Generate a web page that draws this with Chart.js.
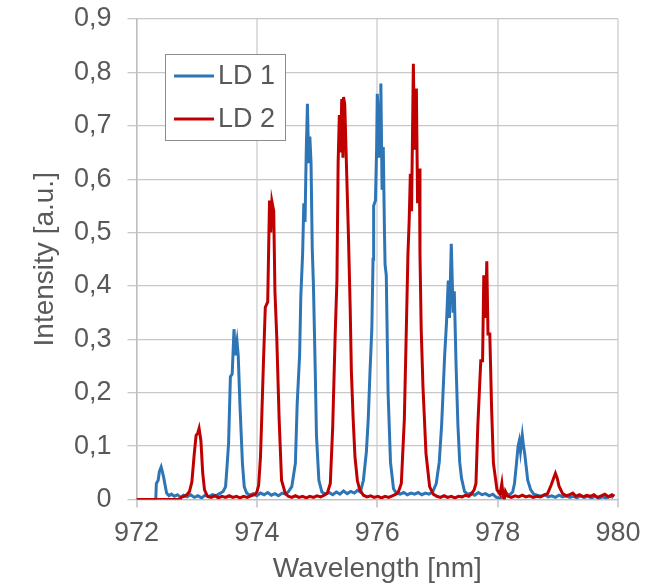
<!DOCTYPE html>
<html>
<head>
<meta charset="utf-8">
<script src="https://cdn.jsdelivr.net/npm/chart.js@4.4.1/dist/chart.umd.min.js"></script>
<style>
html,body{margin:0;padding:0;background:#fff;}
#wrap{width:669px;height:587px;}
</style>
</head>
<body>
<div id="wrap"><canvas id="c" width="669" height="587"></canvas></div>
<script>
// ---- data ----
const seriesNames = ["LD 1", "LD 2"];
const xTickValues = [972, 974, 976, 978, 980];
const yTickValues = [0, 0.1, 0.2, 0.3, 0.4, 0.5, 0.6, 0.7, 0.8, 0.9];

const ld1Wavelength = [
972.00,972.32,972.33,972.36,972.38,972.41,972.43,972.45,972.47,972.50,972.54,972.58,972.63,972.68,972.73,972.78,972.84,972.90,972.96,973.02,
973.08,973.14,973.20,973.26,973.32,973.38,973.44,973.48,973.50,973.53,973.56,973.59,973.62,973.64,973.67,973.69,973.72,973.76,973.79,973.83,
973.88,973.94,974.00,974.06,974.12,974.18,974.24,974.30,974.36,974.42,974.47,974.52,974.58,974.64,974.67,974.71,974.73,974.76,974.78,974.80,
974.82,974.84,974.86,974.88,974.90,974.92,974.94,974.97,974.99,975.03,975.08,975.14,975.20,975.26,975.32,975.38,975.44,975.50,975.56,975.62,
975.67,975.72,975.77,975.82,975.85,975.88,975.91,975.93,975.94,975.97,975.99,976.00,976.02,976.03,976.05,976.06,976.08,976.10,976.12,976.13,
976.15,976.18,976.22,976.27,976.32,976.38,976.44,976.50,976.56,976.62,976.68,976.74,976.80,976.86,976.92,976.98,977.03,977.07,977.12,977.15,
977.18,977.20,977.23,977.26,977.28,977.31,977.34,977.37,977.40,977.45,977.50,977.56,977.62,977.68,977.74,977.80,977.86,977.92,977.98,978.04,
978.10,978.16,978.21,978.25,978.28,978.31,978.34,978.36,978.38,978.41,978.43,978.45,978.50,978.55,978.60,978.66,978.72,978.78,978.84,978.90,
978.96,979.02,979.08,979.14,979.20,979.26,979.32,979.38,979.44,979.50,979.56,979.62,979.68,979.74,979.80,979.86,979.92
];
const ld1Intensity = [
0,0,0.030,0.036,0.052,0.061,0.052,0.042,0.030,0.012,0.007,0.010,0.006,0.009,0.004,0.008,0.005,0.009,0.004,0.007,
0.003,0.008,0.005,0.009,0.007,0.011,0.015,0.024,0.055,0.105,0.230,0.235,0.319,0.270,0.296,0.270,0.174,0.068,0.024,0.012,
0.008,0.011,0.007,0.012,0.009,0.013,0.008,0.011,0.007,0.012,0.010,0.014,0.024,0.068,0.180,0.270,0.380,0.460,0.555,0.520,
0.650,0.741,0.630,0.680,0.630,0.470,0.400,0.240,0.120,0.036,0.014,0.010,0.013,0.009,0.014,0.010,0.016,0.011,0.015,0.012,
0.017,0.014,0.036,0.090,0.150,0.240,0.320,0.450,0.550,0.560,0.660,0.760,0.720,0.640,0.700,0.779,0.580,0.660,0.500,0.440,
0.420,0.200,0.070,0.020,0.012,0.010,0.013,0.009,0.012,0.010,0.013,0.009,0.012,0.010,0.014,0.030,0.070,0.140,0.270,0.330,
0.410,0.340,0.479,0.350,0.390,0.250,0.140,0.070,0.040,0.015,0.010,0.012,0.008,0.013,0.009,0.011,0.007,0.010,0.004,0.003,
0.005,0.008,0.010,0.014,0.030,0.064,0.100,0.110,0.090,0.120,0.100,0.086,0.036,0.018,0.010,0.008,0.006,0.009,0.005,0.007,
0.004,0.008,0.005,0.007,0.004,0.006,0.003,0.007,0.004,0.006,0.003,0.006,0.002,0.005,0.003,0.006,0.004
];

const ld2Wavelength = [
972.00,972.73,972.74,972.79,972.84,972.88,972.92,972.96,972.99,973.02,973.04,973.07,973.10,973.13,973.18,973.24,973.30,973.36,973.42,973.48,
973.54,973.60,973.66,973.72,973.78,973.84,973.90,973.96,974.00,974.03,974.06,974.08,974.11,974.14,974.18,974.21,974.23,974.25,974.28,974.30,
974.33,974.37,974.41,974.47,974.52,974.58,974.64,974.70,974.76,974.82,974.88,974.94,975.00,975.06,975.12,975.17,975.22,975.26,975.30,975.33,
975.35,975.37,975.39,975.41,975.43,975.44,975.46,975.49,975.52,975.55,975.57,975.60,975.63,975.67,975.71,975.77,975.83,975.89,975.95,976.01,
976.07,976.13,976.19,976.25,976.31,976.35,976.40,976.45,976.49,976.51,976.53,976.55,976.57,976.60,976.62,976.65,976.67,976.70,976.71,976.73,
976.76,976.81,976.87,976.93,976.99,977.05,977.11,977.17,977.23,977.29,977.35,977.41,977.47,977.52,977.56,977.61,977.64,977.67,977.72,977.75,
977.77,977.80,977.82,977.84,977.87,977.90,977.93,977.99,978.04,978.07,978.09,978.11,978.13,978.17,978.23,978.29,978.35,978.41,978.47,978.53,
978.59,978.65,978.71,978.77,978.83,978.89,978.93,978.96,978.99,979.02,979.08,979.14,979.20,979.25,979.30,979.36,979.42,979.48,979.54,979.60,
979.66,979.72,979.78,979.84,979.90,979.94
];
const ld2Intensity = [
0,0,0.004,0.006,0.009,0.015,0.033,0.086,0.120,0.125,0.133,0.110,0.050,0.018,0.006,0.004,0.007,0.003,0.006,0.004,
0.007,0.004,0.006,0.003,0.006,0.004,0.007,0.009,0.014,0.027,0.080,0.150,0.260,0.360,0.370,0.560,0.500,0.558,0.540,0.390,
0.305,0.150,0.036,0.012,0.006,0.004,0.007,0.004,0.006,0.003,0.006,0.004,0.007,0.005,0.008,0.012,0.030,0.136,0.305,0.410,
0.630,0.720,0.650,0.750,0.640,0.754,0.740,0.620,0.500,0.360,0.240,0.150,0.080,0.035,0.018,0.008,0.005,0.007,0.004,0.006,
0.003,0.006,0.004,0.007,0.010,0.014,0.030,0.150,0.355,0.460,0.520,0.610,0.540,0.816,0.655,0.770,0.555,0.620,0.460,0.320,
0.210,0.086,0.024,0.010,0.006,0.004,0.007,0.004,0.006,0.003,0.006,0.005,0.008,0.006,0.010,0.018,0.030,0.136,0.260,0.260,
0.420,0.340,0.446,0.310,0.310,0.170,0.068,0.018,0.010,0.030,0.008,0.000,0.015,0.006,0.004,0.007,0.005,0.008,0.005,0.007,
0.004,0.006,0.005,0.008,0.011,0.027,0.040,0.049,0.040,0.025,0.011,0.007,0.009,0.012,0.006,0.009,0.005,0.008,0.006,0.009,
0.004,0.007,0.010,0.005,0.009,0.006
];

// ---- chart ----
const FONT = "'Liberation Sans', Arial, Helvetica, sans-serif";
const TXT = '#595959';
const seriesColors = ['#2E75B6', '#C00000'];

function toPoints(xs, ys) { return xs.map((x, i) => ({ x: x, y: ys[i] })); }

const insideLegend = {
  id: 'insideLegend',
  afterDraw(chart) {
    const ctx = chart.ctx;
    ctx.save();
    const bx = 165.5, by = 54.5, bw = 120, bh = 86;
    ctx.fillStyle = '#ffffff';
    ctx.fillRect(bx, by, bw, bh);
    ctx.strokeStyle = '#8c8c8c';
    ctx.lineWidth = 1;
    ctx.strokeRect(bx, by, bw, bh);
    const rows = [76, 119];
    chart.data.datasets.forEach((ds, i) => {
      const y = rows[i];
      ctx.strokeStyle = ds.borderColor;
      ctx.lineWidth = 3;
      ctx.beginPath();
      ctx.moveTo(174, y);
      ctx.lineTo(214, y);
      ctx.stroke();
      ctx.fillStyle = TXT;
      ctx.font = '27px ' + FONT;
      ctx.textBaseline = 'middle';
      ctx.textAlign = 'left';
      ctx.fillText(ds.label, 218, y + 1);
    });
    ctx.restore();
  }
};

new Chart(document.getElementById('c'), {
  type: 'line',
  data: {
    datasets: [
      { label: seriesNames[0], data: toPoints(ld1Wavelength, ld1Intensity), borderColor: seriesColors[0], borderWidth: 3, pointRadius: 0, tension: 0, order: 2 },
      { label: seriesNames[1], data: toPoints(ld2Wavelength, ld2Intensity), borderColor: seriesColors[1], borderWidth: 3, pointRadius: 0, tension: 0, order: 1 }
    ]
  },
  options: {
    responsive: false,
    animation: false,
    events: [],
    layout: { padding: { top: 19, right: 51, left: 0, bottom: 0 } },
    plugins: { legend: { display: false }, tooltip: { enabled: false } },
    scales: {
      x: {
        type: 'linear',
        min: 972, max: 980,
        afterBuildTicks: (s) => { s.ticks = xTickValues.map(v => ({ value: v })); },
        afterFit: (s) => { s.height = 87.5; s.paddingLeft = 0; s.paddingRight = 0; },
        ticks: { color: TXT, font: { family: FONT, size: 27 }, padding: 10, maxRotation: 0, callback: (v) => String(v) },
        grid: { color: '#dedede', lineWidth: 2, tickLength: 8, tickColor: '#d0d0d0' },
        border: { color: '#bfbfbf', width: 1.3 },
        title: { display: true, text: 'Wavelength [nm]', color: TXT, font: { family: FONT, size: 28 }, padding: { top: 0, bottom: 1 } }
      },
      y: {
        min: 0, max: 0.9,
        afterBuildTicks: (s) => { s.ticks = yTickValues.map(v => ({ value: v })); },
        afterFit: (s) => { s.width = 136.5; s.paddingTop = 0; s.paddingBottom = 0; },
        ticks: { color: TXT, font: { family: FONT, size: 27 }, padding: 16,
          callback: (v) => v === 0 ? '0' : Number(v).toFixed(1).replace('.', ',') },
        grid: { color: '#c8c8c8', lineWidth: 1.3, tickLength: 9, tickColor: '#c8c8c8' },
        border: { color: '#bfbfbf', width: 1.3 },
        title: { display: true, text: 'Intensity [a.u.]', color: TXT, font: { family: FONT, size: 28 }, padding: { top: 28, bottom: 0 } }
      }
    }
  },
  plugins: [insideLegend]
});
</script>
</body>
</html>
